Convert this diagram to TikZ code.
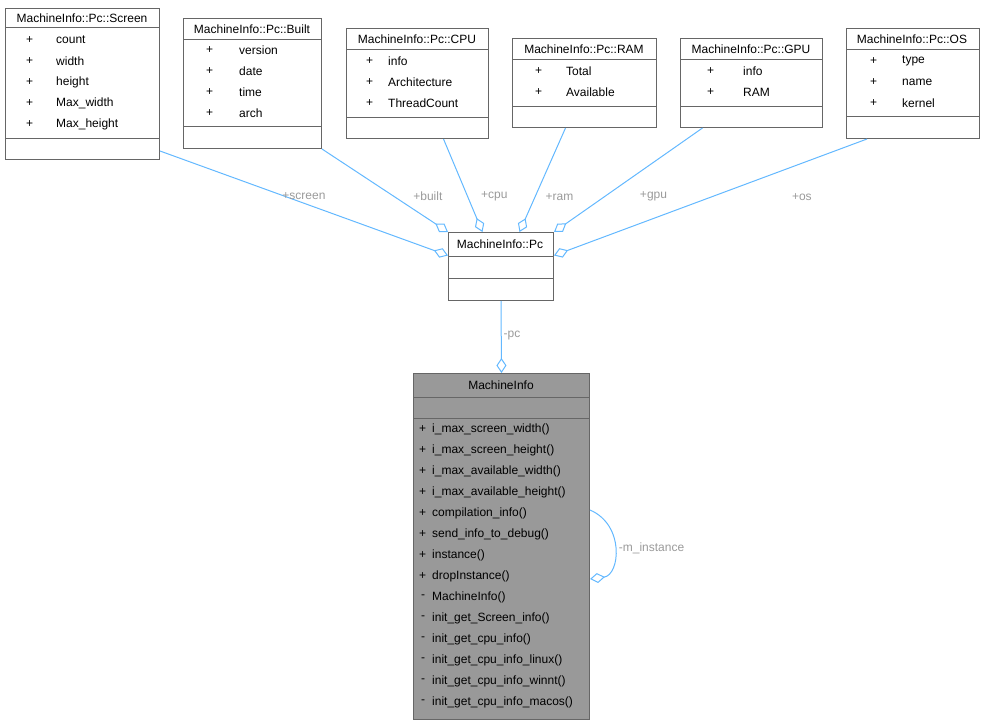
\documentclass[tikz,border=0pt]{standalone}
\usepackage{fontspec}
\setmainfont{Liberation Sans}
\usetikzlibrary{arrows.meta,positioning}
\definecolor{edgeblue}{RGB}{99,184,255}
\definecolor{boxgray}{RGB}{102,102,102}
\definecolor{labelgray}{RGB}{154,154,154}
\definecolor{mainfill}{RGB}{153,153,153}

\begin{document}
\begin{tikzpicture}[x=1pt,y=-1pt,font=\fontsize{12}{14}\selectfont,
    box/.style={draw=boxgray, line width=1pt, fill=white, anchor=north west, inner sep=0pt},
    sep/.style={draw=boxgray, line width=1pt},
    attr/.style={anchor=west, inner sep=0pt},
    link/.style={draw=edgeblue, line width=1pt, -{Diamond[open,length=15pt,width=10pt]}},
    lbl/.style={text=labelgray, inner sep=1pt}]
            \useasboundingbox (0,0) rectangle (985,725);
            % Screen
            \node[box, minimum width=154, minimum height=151] (screen) at (5,8) {};
            \node at (82,18) {MachineInfo::Pc::Screen};
            \draw[sep] (5,28) -- (159,28);
            \foreach \n [count=\i from 0] in {count,width,height,Max\_width,Max\_height} {
                \node[attr] at (26,40+21*\i) {+};
                \node[attr] at (56,40+21*\i) {\n};
            }
            \draw[sep] (5,138) -- (159,138);
            
            % Built
            \node[box, minimum width=138, minimum height=130] (built) at (183,18) {};
            \node at (252,29) {MachineInfo::Pc::Built};
            \draw[sep] (183,40) -- (321,40);
            \foreach \n [count=\i from 0] in {version,date,time,arch} {
                \node[attr] at (206,50+21*\i) {+};
                \node[attr] at (239,50+21*\i) {\n};
            }
            \draw[sep] (183,126) -- (321,126);
            
            % CPU
            \node[box, minimum width=142, minimum height=110] (cpu) at (346,28) {};
            \node at (417,39) {MachineInfo::Pc::CPU};
            \draw[sep] (346,50) -- (488,50);
            \foreach \n [count=\i from 0] in {info,Architecture,ThreadCount} {
                \node[attr] at (366,61+21*\i) {+};
                \node[attr] at (388,61+21*\i) {\n};
            }
            \draw[sep] (346,117) -- (488,117);
            
            % RAM
            \node[box, minimum width=144, minimum height=89] (ram) at (512,38) {};
            \node at (584,49) {MachineInfo::Pc::RAM};
            \draw[sep] (512,60) -- (656,60);
            \foreach \n [count=\i from 0] in {Total,Available} {
                \node[attr] at (535,71+21*\i) {+};
                \node[attr] at (566,71+21*\i) {\n};
            }
            \draw[sep] (512,106) -- (656,106);
            
            % GPU
            \node[box, minimum width=142, minimum height=89] (gpu) at (680,38) {};
            \node at (751,49) {MachineInfo::Pc::GPU};
            \draw[sep] (680,60) -- (822,60);
            \foreach \n [count=\i from 0] in {info,RAM} {
                \node[attr] at (707,71+21*\i) {+};
                \node[attr] at (743,71+21*\i) {\n};
            }
            \draw[sep] (680,106) -- (822,106);
            
            % OS
            \node[box, minimum width=133, minimum height=110] (os) at (846,28) {};
            \node at (912,39) {MachineInfo::Pc::OS};
            \draw[sep] (846,50) -- (979,50);
            \foreach \n [count=\i from 0] in {type,name,kernel} {
                \node[attr] at (870,61+21*\i) {+};
                \node[attr] at (902,61+21*\i) {\n};
            }
            \draw[sep] (846,116) -- (979,116);
            
            % Pc
            \node[box, minimum width=105, minimum height=68] (pc) at (448,232) {};
            \node at (500,244) {MachineInfo::Pc};
            \draw[sep] (448,256) -- (553,256);
            \draw[sep] (448,278) -- (553,278);
            
            % MachineInfo
            \node[box, fill=mainfill, minimum width=176, minimum height=346] (main) at (413,373) {};
            \node at (501,385) {MachineInfo};
            \draw[sep] (413,397) -- (589,397);
            \draw[sep] (413,418) -- (589,418);
            \foreach \n [count=\i from 0] in {i\_max\_screen\_width(),i\_max\_screen\_height(),i\_max\_available\_width(),i\_max\_available\_height(),compilation\_info(),send\_info\_to\_debug(),instance(),dropInstance()} {
                \node[attr] at (419,429+21*\i) {+};
                \node[attr] at (432,429+21*\i) {\n};
            }
            \foreach \n [count=\i from 8] in {MachineInfo(),init\_get\_Screen\_info(),init\_get\_cpu\_info(),init\_get\_cpu\_info\_linux(),init\_get\_cpu\_info\_winnt(),init\_get\_cpu\_info\_macos()} {
                \node[attr] at (421,429+21*\i) {-};
                \node[attr] at (432,429+21*\i) {\n};
            }
            
            % Connecting arrows
            \draw[link] ([yshift=9pt]screen.south east) -- node[lbl, pos=0.5, above=2pt] {+screen} ([yshift=11pt]pc.west);
            \draw[link] (built.south east) -- node[lbl, pos=0.57, right=18pt] {+built} (pc.north west);
            \draw[link] ([xshift=26pt]cpu.south) -- node[lbl, pos=0.62, right=12pt] {+cpu} ([xshift=-18.5pt]pc.north);
            \draw[link] ([xshift=-19pt]ram.south) -- node[lbl, pos=0.66, right=9pt] {+ram} ([xshift=18.5pt]pc.north);
            \draw[link] ([xshift=-49pt]gpu.south) -- node[lbl, pos=0.66, right=34pt] {+gpu} (pc.north east);
            \draw[link] ([xshift=-46pt]os.south) -- node[lbl, pos=0.5, right=80pt] {+os} ([yshift=11pt]pc.east);
            \draw[link] (pc.south) -- node[lbl, pos=0.48, right=1pt] {-pc} (main.north);
            \draw[link] ([yshift=-137pt]main.north east) .. controls (625,525) and (620,575) .. node[lbl, pos=0.5, right=3pt] {-m\_instance} ([yshift=141pt]main.south east);
        \end{tikzpicture}
\end{document}
